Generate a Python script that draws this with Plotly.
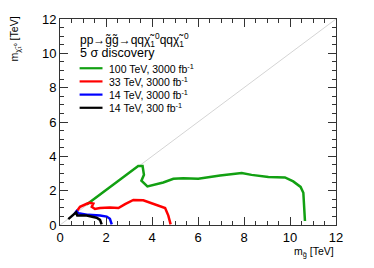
import plotly.graph_objects as go

# Data (TeV)
green_x = [1.16, 3.40, 3.59, 3.65, 3.54, 3.80, 4.49, 4.93, 5.36, 6.01, 6.96, 7.90, 8.33, 9.06, 9.78, 10.14, 10.46, 10.58, 10.65]
green_y = [1.20, 3.43, 3.43, 2.92, 2.58, 2.25, 2.48, 2.69, 2.73, 2.69, 2.88, 3.03, 2.92, 2.79, 2.77, 2.54, 2.22, 1.88, 0.23]
red_x = [0.65, 0.87, 1.19, 1.30, 1.45, 1.38, 1.52, 1.74, 2.17, 2.54, 2.83, 3.19, 3.62, 4.06, 4.57, 4.71, 4.81]
red_y = [0.65, 1.06, 1.25, 1.30, 1.25, 1.06, 0.93, 0.99, 1.02, 0.99, 1.22, 1.46, 1.44, 1.25, 0.99, 0.55, 0.04]
blue_x = [0.62, 0.72, 0.80, 1.23, 1.74, 2.03, 2.17, 2.25]
blue_y = [0.62, 0.80, 0.68, 0.59, 0.55, 0.49, 0.36, 0.04]
black_x = [0.36, 0.70, 0.75, 1.16, 1.59, 1.74, 1.81]
black_y = [0.34, 0.74, 0.55, 0.55, 0.42, 0.30, 0.04]
diag = [0, 12]

series = [
    ("100 TeV, 3000 fb<sup>-1</sup>", green_x, green_y, "#12a012"),
    ("33 TeV, 3000 fb<sup>-1</sup>", red_x, red_y, "#ff0000"),
    ("14 TeV, 3000 fb<sup>-1</sup>", blue_x, blue_y, "#0000ff"),
    ("14 TeV, 300 fb<sup>-1</sup>", black_x, black_y, "#000000"),
]

FONT = "Liberation Sans, Arial, Helvetica, sans-serif"

fig = go.Figure()
fig.add_trace(go.Scatter(x=diag, y=diag, mode="lines",
                         line=dict(color="#d4d4d4", width=1), showlegend=False, hoverinfo="skip"))
for name, xs, ys, col in series:
    fig.add_trace(go.Scatter(x=xs, y=ys, mode="lines", name=name,
                             line=dict(color=col, width=2.5), showlegend=False))

axcommon = dict(
    range=[0, 12], dtick=2, ticks="inside", ticklen=8, tickwidth=1, tickcolor="#333",
    showline=True, linecolor="#333", linewidth=1, mirror="ticks", showgrid=False, zeroline=False,
    tickfont=dict(family=FONT, size=13, color="#000"),
    minor=dict(dtick=0.5, ticks="inside", ticklen=4, tickcolor="#333", showgrid=False),
)
fig.update_xaxes(**axcommon)
fig.update_yaxes(**axcommon)

annotations = [
    dict(text="m<sub>g̃</sub> [TeV]", x=1.0, xref="paper", y=-0.085, yref="paper",
         xanchor="right", yanchor="top", showarrow=False, font=dict(family=FONT, size=10.5, color="#000")),
    dict(text="m<sub>χ̃₁⁰</sub> [TeV]", x=-0.163, xref="paper", y=1.02, yref="paper",
         xanchor="center", yanchor="top", textangle=-90, showarrow=False, font=dict(family=FONT, size=10.5, color="#000")),
    dict(text="pp→g̃g̃→qqχ̃<sub>1</sub><sup>0</sup>qqχ̃<sub>1</sub><sup>0</sup>", x=0.065, xref="paper", y=0.90,
         yref="paper", xanchor="left", yanchor="middle", showarrow=False, font=dict(family=FONT, size=12, color="#000")),
    dict(text="5 σ discovery", x=0.065, xref="paper", y=0.833, yref="paper",
         xanchor="left", yanchor="middle", showarrow=False, font=dict(family=FONT, size=12.5, color="#000")),
]
shapes = []
leg_y = [0.761, 0.697, 0.633, 0.569]
for (name, xs, ys, col), ly in zip(series, leg_y):
    shapes.append(dict(type="line", xref="paper", yref="paper", x0=0.071, x1=0.154, y0=ly, y1=ly,
                       line=dict(color=col, width=2.2)))
    annotations.append(dict(text=name, x=0.172, xref="paper", y=ly, yref="paper", xanchor="left",
                            yanchor="middle", showarrow=False, font=dict(family=FONT, size=10.5, color="#000")))

fig.update_layout(
    width=374, height=268, margin=dict(l=60, r=38, t=14, b=43),
    paper_bgcolor="white", plot_bgcolor="white",
    annotations=annotations, shapes=shapes, showlegend=False,
)
fig.write_html("out.html", config={"displayModeBar": False},
               post_script="document.body.style.margin='0';document.body.style.overflow='hidden';")
